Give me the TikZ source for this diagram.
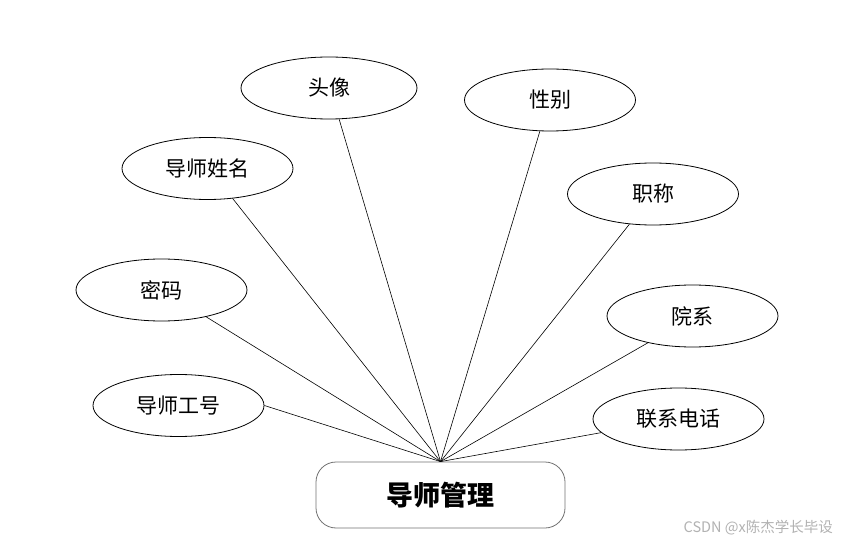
\documentclass[tikz,border=0pt]{standalone}
\usepackage{fontspec}
\usetikzlibrary{shapes.geometric}
\newfontfamily\cjk{Noto Sans CJK SC}
\begin{document}
\begin{tikzpicture}[x=1pt,y=-1pt,
  attr/.style={draw=black, ellipse, line width=0.8pt, minimum width=171pt, minimum height=62pt, inner sep=0pt, font=\cjk\fontsize{21}{21}\selectfont},
  ent/.style={draw=black!55, rounded corners=20pt, line width=0.8pt, minimum width=249pt, minimum height=66pt, inner sep=0pt, font=\cjk\bfseries\fontsize{27}{27}\selectfont},
  conn/.style={draw=black, line width=0.6pt}]
\useasboundingbox (0,0) rectangle (843,545);
\fill[white] (0,0) rectangle (843,545);
\node[ent] (box) at (440.5,495) {导师管理};
\node[attr, minimum width=176pt] (tx) at (329,88) {头像};
\node[attr] (xb) at (550,100) {性别};
\node[attr] (xm) at (207.5,168.5) {导师姓名};
\node[attr] (zc) at (653,194) {职称};
\node[attr] (mm) at (161.5,290) {密码};
\node[attr] (yx) at (692.5,316) {院系};
\node[attr] (gh) at (178.5,405.5) {导师工号};
\node[attr] (dh) at (678.5,419) {联系电话};
\foreach \n/\a in {tx/-72,xb/-108,xm/-50.5,zc/-128.6,mm/-31,yx/-149.6,gh/0,dh/-170.3}{
  \draw[conn] (box.north) -- (\n.\a);
}
\node[anchor=east, text=black!30, font=\cjk\fontsize{14.5}{14.5}\selectfont, inner sep=0pt] (wm) at (833,528) {CSDN @x陈杰学长毕设};
\end{tikzpicture}
\end{document}
